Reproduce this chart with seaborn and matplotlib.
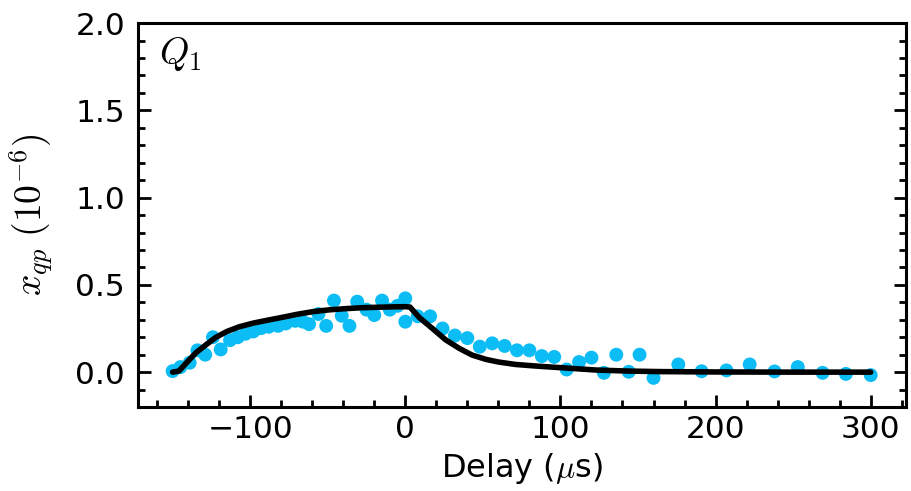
import numpy as np
import pandas as pd
import matplotlib
matplotlib.use("Agg")
import matplotlib.pyplot as plt
from matplotlib.ticker import MultipleLocator
import seaborn as sns

# Measured data (delay in us, x_qp in 1e-6)
delay_neg = [-150, -145, -139, -134, -129, -124, -119, -113, -108, -103, -98, -93, -88,
             -82, -77, -71, -66, -62, -56, -51, -46, -41, -36, -31, -25, -20, -15, -10, -5, 0]
xqp_neg = [0.006, 0.029, 0.054, 0.125, 0.10, 0.20, 0.13, 0.183, 0.20, 0.22, 0.233, 0.252, 0.26,
           0.265, 0.279, 0.294, 0.289, 0.275, 0.333, 0.265, 0.41, 0.323, 0.265, 0.404, 0.358,
           0.327, 0.41, 0.358, 0.38, 0.423]
delay_pos = [0, 8, 16, 24, 32, 40, 48, 56, 64, 72, 80, 88, 96, 104, 112, 120, 128, 136, 144,
             151, 160, 176, 191, 207, 222, 238, 253, 269, 284, 300]
xqp_pos = [0.289, 0.32, 0.32, 0.25, 0.21, 0.195, 0.146, 0.165, 0.15, 0.125, 0.125, 0.092,
           0.087, 0.015, 0.058, 0.083, -0.004, 0.10, 0.002, 0.10, -0.033, 0.044, 0.005, 0.01,
           0.044, 0.004, 0.029, -0.004, -0.01, -0.017]

# Fit curve
fit_delay = [-150, -146, -141, -135, -128, -122, -115, -107, -98, -88, -77, -70, -60, -49,
             -38, -28, -17, -8, 0, 3, 9, 18, 26, 35, 43, 52, 60, 71, 84, 101, 123, 144, 165,
             200, 250, 300]
fit_xqp = [0.0, 0.006, 0.054, 0.111, 0.16, 0.20, 0.233, 0.26, 0.281, 0.299, 0.318, 0.331,
           0.346, 0.357, 0.364, 0.369, 0.372, 0.374, 0.375, 0.373, 0.313, 0.246, 0.185, 0.135,
           0.098, 0.073, 0.058, 0.044, 0.035, 0.025, 0.012, 0.006, 0.003, 0.001, 0.0, 0.0]

x_ticks = [-100, 0, 100, 200, 300]
y_ticks = [0.0, 0.5, 1.0, 1.5, 2.0]

sns.set_style("ticks")
plt.rcParams["mathtext.fontset"] = "cm"
plt.rcParams["font.family"] = ["DejaVu Sans"]
plt.rcParams["text.color"] = "black"
plt.rcParams["axes.labelcolor"] = "black"
plt.rcParams["xtick.color"] = "black"
plt.rcParams["ytick.color"] = "black"

pts = pd.DataFrame({"delay": delay_neg + delay_pos, "xqp": xqp_neg + xqp_pos})
fit = pd.DataFrame({"delay": fit_delay, "xqp": fit_xqp})

fig = plt.figure(figsize=(9.12, 4.91), dpi=100)
ax = fig.add_axes([0.151, 0.171, 0.842, 0.782])

sns.scatterplot(data=pts, x="delay", y="xqp", ax=ax, color="#0BBCF5", s=100,
                edgecolor="none", linewidth=0, zorder=2)
sns.lineplot(data=fit, x="delay", y="xqp", ax=ax, color="black", lw=4.0,
             sort=False, estimator=None, zorder=3)

ax.set_xlim(-172.5, 322.5)
ax.set_ylim(-0.2, 2.0)
ax.set_xticks(x_ticks)
ax.set_yticks(y_ticks)
ax.set_xticklabels([f"{t:g}".replace("-", "\u2212") for t in x_ticks])
ax.set_yticklabels([f"{t:.1f}" for t in y_ticks])
ax.xaxis.set_minor_locator(MultipleLocator(20))
ax.yaxis.set_minor_locator(MultipleLocator(0.1))

ax.tick_params(which="both", direction="in", top=False, right=True,
               labelsize=22.5, width=2, colors="black")
ax.tick_params(which="major", length=9)
ax.tick_params(which="minor", length=5)
ax.tick_params(axis="y", pad=9)
ax.tick_params(axis="x", pad=6)
for sp in ax.spines.values():
    sp.set_linewidth(2.2)
    sp.set_visible(True)
    sp.set_color("black")

ax.set_xlabel(r"Delay ($\mu$s)", fontsize=23, labelpad=5)
ax.set_ylabel(r"$x_{qp}\ (10^{-6})$", fontsize=27, labelpad=14)
ax.text(0.028, 0.97, r"$Q_1$", transform=ax.transAxes, fontsize=27,
        ha="left", va="top")

fig.savefig("out.png", dpi=100)
